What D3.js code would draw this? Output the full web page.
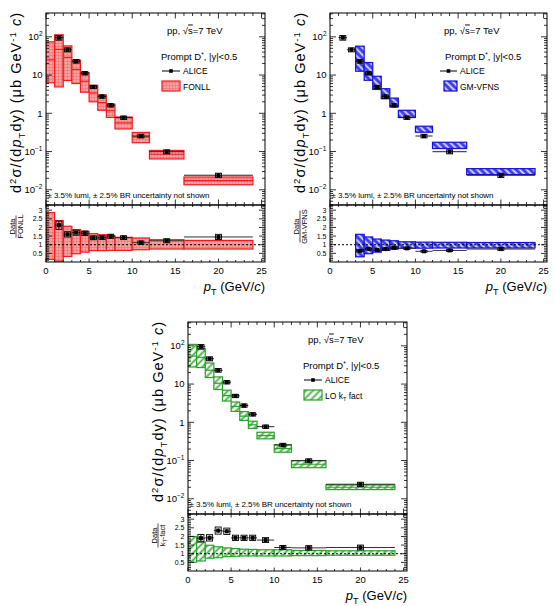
<!DOCTYPE html>
<html><head><meta charset="utf-8">
<script src="https://cdn.jsdelivr.net/npm/d3@7"></script>
<style>body{margin:0;background:#fff;} svg{display:block;font-family:"Liberation Sans",Arial,Helvetica,sans-serif;} text{fill:#000;}</style>
</head><body><svg id="c" width="554" height="606"></svg>
<script>
// ---------- DATA ----------
const binLo = [1, 2, 3, 4, 5, 6, 7, 8, 10, 12, 16];
const binHi = [2, 3, 4, 5, 6, 7, 8, 10, 12, 16, 24];
const aliceY = [95, 46, 23, 11.2, 4.9, 2.75, 1.62, 0.77, 0.255, 0.099, 0.024];
const aliceStat = [0.10, 0.07, 0.05, 0.05, 0.05, 0.05, 0.05, 0.05, 0.06, 0.07, 0.09];
const aliceSyst = [0.14, 0.12, 0.11, 0.10, 0.10, 0.10, 0.10, 0.10, 0.11, 0.12, 0.13];

// FONLL
const fonllLo  = [0, 1, 2, 3, 4, 5, 6, 7, 8, 10, 12, 16];
const fonllHi  = [1, 2, 3, 4, 5, 6, 7, 8, 10, 12, 16, 24];
const fonllCen = [25, 47, 29, 14, 6.9, 3.4, 1.9, 1.17, 0.56, 0.24, 0.085, 0.0173];
const fonllMin = [6.3, 4.9, 7.2, 6.0, 3.56, 2.0, 1.2, 0.78, 0.39, 0.17, 0.064, 0.0135];
const fonllMax = [74, 113, 58, 24.5, 11.6, 5.4, 3.0, 1.73, 0.8, 0.316, 0.107, 0.0216];
const fonllRatioMin = [0.15, 0.05, 0.32, 0.48, 0.57, 0.66, 0.66, 0.67, 0.67, 0.71, 0.75, 0.75];
const fonllRatioMax = [2.86, 2.40, 2.07, 1.87, 1.78, 1.64, 1.58, 1.52, 1.43, 1.39, 1.29, 1.25];
const dataOverFonll = [2.13, 1.60, 1.70, 1.66, 1.40, 1.41, 1.49, 1.41, 1.12, 1.23, 1.45];

// GM-VFNS
const gmLo  = [3, 4, 5, 6, 7, 8, 10, 12, 16];
const gmHi  = [4, 5, 6, 7, 8, 10, 12, 16, 24];
const gmMin = [12.6, 7.3, 4.2, 2.4, 1.47, 0.78, 0.32, 0.12, 0.025];
const gmMax = [57, 21.3, 9.3, 4.4, 2.5, 1.2, 0.46, 0.175, 0.0357];
const gmRatioMin = [0.30, 0.48, 0.57, 0.67, 0.75, 0.80, 0.80, 0.81, 0.81];
const gmRatioMax = [1.60, 1.45, 1.33, 1.27, 1.23, 1.17, 1.15, 1.14, 1.13];
const dataOverGm = [0.65, 0.76, 0.70, 0.75, 0.82, 0.79, 0.62, 0.67, 0.75];

// LO kT factorisation
const ktLo  = [0, 1, 2, 3, 4, 5, 6, 7, 8, 10, 12, 16];
const ktHi  = [1, 2, 3, 4, 5, 6, 7, 8, 10, 12, 16, 24];
const ktCen = [54, 50, 23, 10.5, 5.0, 2.6, 1.45, 0.86, 0.45, 0.205, 0.08, 0.02];
const ktMin = [28, 27, 14.8, 7.2, 3.6, 1.93, 1.12, 0.69, 0.37, 0.165, 0.065, 0.0174];
const ktMax = [109, 85, 35.6, 15.4, 6.9, 3.4, 1.9, 1.07, 0.55, 0.26, 0.1, 0.023];
const ktRatioMin = [0.51, 0.58, 0.74, 0.77, 0.83, 0.85, 0.87, 0.87, 0.87, 0.87, 0.89, 0.91];
const ktRatioMax = [2.00, 1.68, 1.49, 1.40, 1.34, 1.30, 1.26, 1.25, 1.23, 1.23, 1.19, 1.17];
const dataOverKt = [1.90, 1.92, 2.34, 2.30, 1.92, 1.92, 1.92, 1.79, 1.36, 1.34, 1.36];

const xTicks = [0, 5, 10, 15, 20, 25];
const logTicks = [0.01, 0.1, 1, 10, 100];
const ratioTicks = [0.5, 1, 1.5, 2, 2.5, 3];

// ---------- DRAWING ----------
const svg = d3.select("#c");
const defs = svg.append("defs");

(function(){
  const p1 = defs.append("pattern").attr("id","patFonll").attr("patternUnits","userSpaceOnUse").attr("width",3).attr("height",3);
  p1.append("rect").attr("width",3).attr("height",3).attr("fill","#f7a3a3");
  p1.append("path").attr("d","M0,1.5H3M1.5,0V3").attr("stroke","#ef7070").attr("stroke-width",0.6);
  const p2 = defs.append("pattern").attr("id","patGm").attr("patternUnits","userSpaceOnUse").attr("width",5).attr("height",5).attr("patternTransform","rotate(-45)");
  p2.append("rect").attr("width",5).attr("height",5).attr("fill","#3a3ae6");
  p2.append("line").attr("x1",2.5).attr("x2",2.5).attr("y1",0).attr("y2",5).attr("stroke","#e8e8ff").attr("stroke-width",1.8);
  const p3 = defs.append("pattern").attr("id","patKt").attr("patternUnits","userSpaceOnUse").attr("width",5).attr("height",5).attr("patternTransform","rotate(45)");
  p3.append("rect").attr("width",5).attr("height",5).attr("fill","#ffffff");
  p3.append("line").attr("x1",2.5).attr("x2",2.5).attr("y1",0).attr("y2",5).attr("stroke","#3fae3f").attr("stroke-width",1.8);
})();

let clipN = 0;
function drawPanel(cfg) {
  const {x0, x1, yT, yM, yB} = cfg;
  const g = svg.append("g");
  const x = d3.scaleLinear().domain([0, 25.4]).range([x0, x1]);
  const y = d3.scaleLog().domain([0.004, 420]).range([yM, yT]);
  const yr = d3.scaleLinear().domain([0, 3.3]).range([yB, yM]);

  const cu = "clipU" + (++clipN), cr = "clipR" + clipN;
  defs.append("clipPath").attr("id", cu).append("rect").attr("x", x0).attr("y", yT).attr("width", x1 - x0).attr("height", yM - yT);
  defs.append("clipPath").attr("id", cr).append("rect").attr("x", x0).attr("y", yM).attr("width", x1 - x0).attr("height", yB - yM);

  const gu = g.append("g").attr("clip-path", `url(#${cu})`);
  const th = cfg.theory;
  th.lo.forEach((lo, i) => {
    gu.append("rect").attr("x", x(lo)).attr("width", x(th.hi[i]) - x(lo))
      .attr("y", y(th.max[i])).attr("height", y(th.min[i]) - y(th.max[i]))
      .attr("fill", `url(#${cfg.pat})`).attr("stroke", cfg.col).attr("stroke-width", 1.2);
    if (th.cen) gu.append("line").attr("x1", x(lo)).attr("x2", x(th.hi[i]))
      .attr("y1", y(th.cen[i])).attr("y2", y(th.cen[i])).attr("stroke", cfg.col).attr("stroke-width", 1.2);
  });
  binLo.forEach((lo, i) => {
    const c = (lo + binHi[i]) / 2, v = aliceY[i];
    gu.append("line").attr("x1", x(lo)).attr("x2", x(binHi[i])).attr("y1", y(v)).attr("y2", y(v)).attr("stroke", "#222").attr("stroke-width", 1);
    gu.append("line").attr("x1", x(c)).attr("x2", x(c)).attr("y1", y(v * (1 + aliceStat[i]))).attr("y2", y(v * (1 - aliceStat[i]))).attr("stroke", "#000").attr("stroke-width", 1);
    gu.append("rect").attr("x", x(c - 0.35)).attr("width", x(c + 0.35) - x(c - 0.35))
      .attr("y", y(v * (1 + aliceSyst[i]))).attr("height", y(v * (1 - aliceSyst[i])) - y(v * (1 + aliceSyst[i])))
      .attr("fill", "none").attr("stroke", "#000").attr("stroke-width", 0.9);
    gu.append("rect").attr("x", x(c) - 2).attr("y", y(v) - 2).attr("width", 4).attr("height", 4).attr("fill", "#000");
  });

  const gr = g.append("g").attr("clip-path", `url(#${cr})`);
  th.lo.forEach((lo, i) => {
    gr.append("rect").attr("x", x(lo)).attr("width", x(th.hi[i]) - x(lo))
      .attr("y", yr(th.rmax[i])).attr("height", yr(th.rmin[i]) - yr(th.rmax[i]))
      .attr("fill", `url(#${cfg.pat})`).attr("stroke", cfg.col).attr("stroke-width", 1.2);
  });
  gr.append("line").attr("x1", x0).attr("x2", x1).attr("y1", yr(1)).attr("y2", yr(1))
    .attr("stroke", "#000").attr("stroke-width", 1).attr("stroke-dasharray", "2,2");
  const rStart = binLo.length - cfg.ratio.length;
  cfg.ratio.forEach((v, k) => {
    const i = k + rStart;
    const lo = binLo[i], hi = binHi[i], c = (lo + hi) / 2;
    gr.append("line").attr("x1", x(lo)).attr("x2", x(hi)).attr("y1", yr(v)).attr("y2", yr(v)).attr("stroke", "#333").attr("stroke-width", 1);
    gr.append("line").attr("x1", x(c)).attr("x2", x(c)).attr("y1", yr(v * (1 + aliceStat[i]))).attr("y2", yr(v * (1 - aliceStat[i]))).attr("stroke", "#000").attr("stroke-width", 1);
    gr.append("rect").attr("x", x(c - 0.35)).attr("width", x(c + 0.35) - x(c - 0.35))
      .attr("y", yr(v * (1 + aliceSyst[i] * 0.8))).attr("height", yr(v * (1 - aliceSyst[i] * 0.8)) - yr(v * (1 + aliceSyst[i] * 0.8)))
      .attr("fill", "none").attr("stroke", "#000").attr("stroke-width", 0.9);
    gr.append("rect").attr("x", x(c) - 2).attr("y", yr(v) - 2).attr("width", 4).attr("height", 4).attr("fill", "#000");
  });

  const fr = g.append("g").attr("fill", "none").attr("stroke", "#000").attr("stroke-width", 1);
  fr.append("rect").attr("x", x0).attr("y", yT).attr("width", x1 - x0).attr("height", yM - yT);
  fr.append("rect").attr("x", x0).attr("y", yM).attr("width", x1 - x0).attr("height", yB - yM);

  const tk = g.append("g").attr("stroke", "#000").attr("stroke-width", 0.8);
  for (let v = 0; v <= 25; v++) {
    const major = v % 5 === 0;
    const px = x(v);
    tk.append("line").attr("x1", px).attr("x2", px).attr("y1", yT).attr("y2", yT + (major ? 5.5 : 3));
    tk.append("line").attr("x1", px).attr("x2", px).attr("y1", yM).attr("y2", yM - (major ? 5.5 : 3));
    tk.append("line").attr("x1", px).attr("x2", px).attr("y1", yM).attr("y2", yM + (major ? 3.5 : 2));
    tk.append("line").attr("x1", px).attr("x2", px).attr("y1", yB).attr("y2", yB - (major ? 3.5 : 2));
  }
  for (let e = -3; e <= 2; e++) {
    for (let m = 1; m <= 9; m++) {
      const v = m * Math.pow(10, e);
      if (v < 0.004 || v > 420) continue;
      const py = y(v), len = m === 1 ? 6 : 3;
      tk.append("line").attr("x1", x0).attr("x2", x0 + len).attr("y1", py).attr("y2", py);
      tk.append("line").attr("x1", x1).attr("x2", x1 - len).attr("y1", py).attr("y2", py);
    }
  }
  for (let k = 1; k <= 33; k++) {
    const v = k / 10, py = yr(v), len = (k % 5 === 0) ? 6 : 3;
    tk.append("line").attr("x1", x0).attr("x2", x0 + len).attr("y1", py).attr("y2", py);
    tk.append("line").attr("x1", x1).attr("x2", x1 - len).attr("y1", py).attr("y2", py);
  }

  const lab = g.append("g").attr("fill", "#000");
  xTicks.forEach(v => lab.append("text").attr("x", x(v)).attr("y", yB + 12).attr("text-anchor", "middle").attr("font-size", 9.5).text(v));
  logTicks.forEach(v => {
    const t = lab.append("text").attr("x", x0 - 3.5).attr("y", y(v) + 3.3).attr("text-anchor", "end").attr("font-size", 9.5);
    if (v === 1) t.text("1");
    else if (v === 10) t.text("10");
    else {
      const e = Math.round(Math.log10(v));
      t.append("tspan").text("10");
      t.append("tspan").attr("dy", -4).attr("font-size", 6.5).text(e < 0 ? "\u2212" + (-e) : e);
    }
  });
  ratioTicks.forEach(v => lab.append("text").attr("x", x0 - 3.5).attr("y", yr(v) + 2.5).attr("text-anchor", "end").attr("font-size", 7).text(v));

  const xt = lab.append("text").attr("x", x1).attr("y", yB + 29).attr("text-anchor", "end").attr("font-size", 13);
  xt.append("tspan").attr("font-style", "italic").text("p");
  xt.append("tspan").attr("dy", 4).attr("font-size", 9).text("T");
  xt.append("tspan").attr("dy", -4).text(" (GeV/");
  xt.append("tspan").attr("font-style", "italic").text("c");
  xt.append("tspan").text(")");

  const yt = lab.append("text").attr("transform", `translate(${x0 - 25},${yT}) rotate(-90)`).attr("text-anchor", "end")
    .attr("font-size", 14.5).attr("textLength", 180).attr("lengthAdjust", "spacing");
  yt.append("tspan").text("d");
  yt.append("tspan").attr("dy", -5.5).attr("font-size", 9.5).text("2");
  yt.append("tspan").attr("dy", 5.5).text("\u03c3/(d");
  yt.append("tspan").attr("font-style", "italic").text("p");
  yt.append("tspan").attr("dy", 4).attr("font-size", 9.5).text("T");
  yt.append("tspan").attr("dy", -4).text("dy) (\u03bcb GeV");
  yt.append("tspan").attr("dy", -5.5).attr("font-size", 9.5).text("-1");
  yt.append("tspan").attr("dy", 5.5).text(" ");
  yt.append("tspan").attr("font-style", "italic").text("c");
  yt.append("tspan").text(")");

  const rc = (yM + yB) / 2 - 7, rx = x0 - 30;
  const fg = lab.append("g").attr("transform", `translate(${rx},${rc}) rotate(-90)`);
  fg.append("text").attr("x", 0).attr("y", -1.5).attr("text-anchor", "middle").attr("font-size", 7.5).text("Data");
  const den = fg.append("text").attr("x", 0).attr("y", 7).attr("text-anchor", "middle").attr("font-size", 7.5);
  cfg.denom(den);
  fg.append("line").attr("x1", -cfg.fracW / 2).attr("x2", cfg.fracW / 2).attr("y1", 0).attr("y2", 0).attr("stroke", "#000").attr("stroke-width", 0.7);

  lab.append("text").attr("x", x0 + 1.5).attr("y", yM - 7.5).attr("font-size", 8).attr("fill", "#000")
    .attr("textLength", 162).attr("lengthAdjust", "spacing")
    .text("\u00b1 3.5% lumi, \u00b1 2.5% BR uncertainty not shown");

  const L = cfg.leg;
  const t1 = lab.append("text").attr("x", L.ppX).attr("y", yT + 20.5).attr("font-size", 9.5);
  t1.append("tspan").text("pp, \u221a");
  t1.append("tspan").style("text-decoration", "overline").text("s");
  t1.append("tspan").text("=7 TeV");
  const t2 = lab.append("text").attr("x", L.prX).attr("y", yT + 47).attr("font-size", 9.5);
  t2.append("tspan").text("Prompt D");
  t2.append("tspan").attr("dy", -3.5).attr("font-size", 6.5).text("*");
  t2.append("tspan").attr("dy", 3.5).text(", |y|<0.5");
  lab.append("line").attr("x1", L.lnX0).attr("x2", L.lnX1).attr("y1", yT + 58).attr("y2", yT + 58).attr("stroke", "#000").attr("stroke-width", 1);
  lab.append("rect").attr("x", (L.lnX0 + L.lnX1) / 2 - 1.8).attr("y", yT + 56.2).attr("width", 3.6).attr("height", 3.6).attr("fill", "#000");
  lab.append("text").attr("x", L.txX).attr("y", yT + 61.3).attr("font-size", 8.5).text("ALICE");
  lab.append("rect").attr("x", L.bxX0).attr("y", yT + 68).attr("width", L.bxX1 - L.bxX0).attr("height", 10)
    .attr("fill", `url(#${cfg.pat})`).attr("stroke", cfg.col).attr("stroke-width", 1.2);
  const t3 = lab.append("text").attr("x", L.txX).attr("y", yT + 76.5).attr("font-size", 8.5);
  cfg.legLabel(t3);
}

drawPanel({
  x0: 46, x1: 265, yT: 13, yM: 205, yB: 262,
  theory: {lo: fonllLo, hi: fonllHi, cen: fonllCen, min: fonllMin, max: fonllMax, rmin: fonllRatioMin, rmax: fonllRatioMax},
  ratio: dataOverFonll, pat: "patFonll", col: "#ee1c1c",
  denom: t => t.text("FONLL"), fracW: 22,
  leg: {ppX: 167, prX: 161, lnX0: 162, lnX1: 180, txX: 183, bxX0: 162, bxX1: 180},
  legLabel: t => t.text("FONLL")
});
drawPanel({
  x0: 330, x1: 547, yT: 13, yM: 205, yB: 262,
  theory: {lo: gmLo, hi: gmHi, cen: null, min: gmMin, max: gmMax, rmin: gmRatioMin, rmax: gmRatioMax},
  ratio: dataOverGm, pat: "patGm", col: "#1010e0",
  denom: t => t.text("GM-VFNS"), fracW: 32,
  leg: {ppX: 444, prX: 445, lnX0: 440, lnX1: 457, txX: 460, bxX0: 444, bxX1: 457},
  legLabel: t => t.text("GM-VFNS")
});
drawPanel({
  x0: 188, x1: 407, yT: 322, yM: 514, yB: 571,
  theory: {lo: ktLo, hi: ktHi, cen: ktCen, min: ktMin, max: ktMax, rmin: ktRatioMin, rmax: ktRatioMax},
  ratio: dataOverKt, pat: "patKt", col: "#2ca02c",
  denom: t => { t.append("tspan").text("k"); t.append("tspan").attr("dy", 2).attr("font-size", 5.5).text("T"); t.append("tspan").attr("dy", -2).text("-fact"); },
  fracW: 24,
  leg: {ppX: 308, prX: 303, lnX0: 304, lnX1: 322, txX: 325, bxX0: 304, bxX1: 322},
  legLabel: t => { t.append("tspan").text("LO k"); t.append("tspan").attr("dy", 2).attr("font-size", 5.5).text("T"); t.append("tspan").attr("dy", -2).text(" fact"); }
});
</script></body></html>
